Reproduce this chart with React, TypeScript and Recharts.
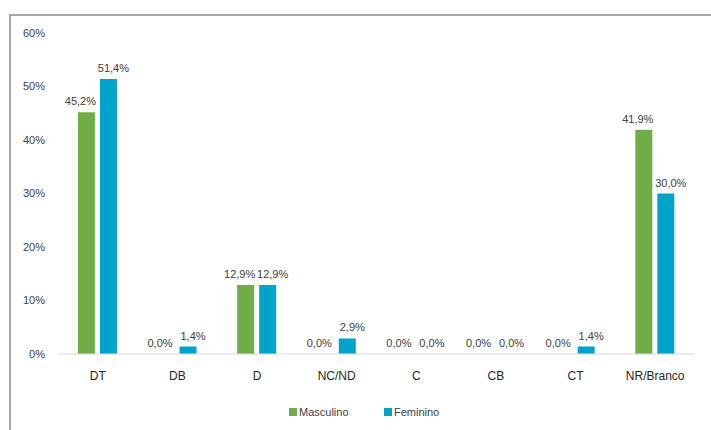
import React from "react";
import { BarChart, Bar, XAxis, YAxis, LabelList } from "recharts";

const categories = ["DT", "DB", "D", "NC/ND", "C", "CB", "CT", "NR/Branco"];
const masculino = [45.2, 0.0, 12.9, 0.0, 0.0, 0.0, 0.0, 41.9];
const feminino = [51.4, 1.4, 12.9, 2.9, 0.0, 0.0, 1.4, 30.0];
const yTicks = [0, 10, 20, 30, 40, 50, 60];
const seriesNames = ["Masculino", "Feminino"];

const data = categories.map((c, i) => ({
  name: c,
  Masculino: masculino[i],
  Feminino: feminino[i],
}));

const GREEN = "#70AD47";
const BLUE = "#00A3C9";
const TEXT = "#404040";
const FONT = "'Liberation Sans', Arial, sans-serif";

const pct = (v: any) => `${Number(v).toFixed(1).replace(".", ",")}%`;

function LegendRow() {
  const items = [
    { name: seriesNames[0], color: GREEN, left: 289 },
    { name: seriesNames[1], color: BLUE, left: 384 },
  ];
  return (
    <>
      {items.map((it) => (
        <div
          key={it.name}
          style={{
            position: "absolute",
            left: it.left,
            top: 405,
            height: 14,
            display: "flex",
            alignItems: "center",
            fontSize: 11,
            color: TEXT,
            fontFamily: FONT,
          }}
        >
          <span style={{ display: "inline-block", width: 8, height: 8, background: it.color, marginRight: 2 }} />
          {it.name}
        </div>
      ))}
    </>
  );
}

export default function App() {
  return (
    <div
      style={{
        position: "absolute",
        left: 0,
        top: 0,
        width: 711,
        height: 430,
        background: "#fff",
        overflow: "hidden",
        fontFamily: FONT,
      }}
    >
      <div
        style={{
          position: "absolute",
          left: 9,
          top: 14,
          width: 720,
          height: 440,
          borderLeft: "2px solid #A6A6A6",
          borderTop: "2px solid #A6A6A6",
          boxSizing: "border-box",
        }}
      />
      <BarChart
        width={711}
        height={430}
        data={data}
        margin={{ top: 33, right: 16, left: 0, bottom: 34 }}
        barCategoryGap="25%"
        barGap={5}
        style={{ position: "absolute", left: 0, top: 0, fontFamily: FONT }}
      >
        <YAxis
          width={58}
          domain={[0, 60]}
          ticks={yTicks}
          tickFormatter={(v: number) => `${v}%`}
          axisLine={false}
          tickLine={false}
          tickMargin={7}
          tick={{ fill: TEXT, fontSize: 11 }}
        />
        <XAxis
          dataKey="name"
          height={42}
          axisLine={{ stroke: "#D9D9D9", strokeWidth: 1 }}
          tickLine={false}
          tickMargin={11}
          tick={{ fill: "#262626", fontSize: 12 }}
        />
        <Bar dataKey="Masculino" fill={GREEN} minPointSize={0.01} isAnimationActive={false}>
          <LabelList dataKey="Masculino" position="top" offset={7} dx={-6} formatter={pct} fill={TEXT} fontSize={11} />
        </Bar>
        <Bar dataKey="Feminino" fill={BLUE} minPointSize={0.01} isAnimationActive={false}>
          <LabelList dataKey="Feminino" position="top" offset={7} dx={5} formatter={pct} fill={TEXT} fontSize={11} />
        </Bar>
      </BarChart>
      <LegendRow />
    </div>
  );
}
